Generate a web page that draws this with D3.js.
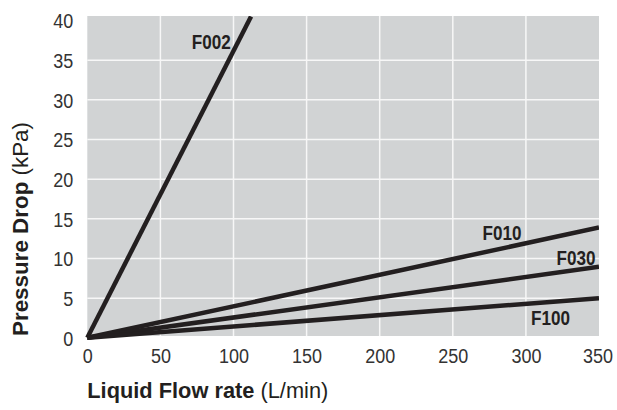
<!DOCTYPE html>
<html>
<head>
<meta charset="utf-8">
<script src="https://cdn.jsdelivr.net/npm/d3@7"></script>
<style>
  html, body { margin: 0; padding: 0; background: #fff; }
  svg { display: block; }
</style>
</head>
<body>
<svg id="chart" width="617" height="410"></svg>
<script>
// ---- data ----
const seriesNames = ["F002", "F010", "F030", "F100"];
const flowF002 = [0, 112];
const dropF002 = [0, 40.5];
const flowF010 = [0, 350];
const dropF010 = [0, 13.9];
const flowF030 = [0, 350];
const dropF030 = [0, 8.95];
const flowF100 = [0, 350];
const dropF100 = [0, 5.0];
const xTicks = [0, 50, 100, 150, 200, 250, 300, 350];
const yTicks = [0, 5, 10, 15, 20, 25, 30, 35, 40];
const xTitleBold = "Liquid Flow rate";
const xTitleUnit = " (L/min)";
const yTitleBold = "Pressure Drop";
const yTitleUnit = " (kPa)";

// label anchor values (data coordinates)
const labelFlow = [71.5, 270.4, 321, 303.5];
const labelDrop = [36.4, 12.33, 9.18, 1.61];

const series = [
  {name: seriesNames[0], flow: flowF002, drop: dropF002},
  {name: seriesNames[1], flow: flowF010, drop: dropF010},
  {name: seriesNames[2], flow: flowF030, drop: dropF030},
  {name: seriesNames[3], flow: flowF100, drop: dropF100}
];

// ---- layout ----
const pL = 87.3, pR = 599, pT = 16, pB = 336;
const x = d3.scaleLinear().domain([0, 350]).range([pL, pR]);
const y = d3.scaleLinear().domain([0, 40.5]).range([337.8, 16.5]);

const svg = d3.select("#chart");
const font = "'Liberation Sans', Arial, Helvetica, sans-serif";

svg.append("defs").append("clipPath").attr("id", "plotclip")
  .append("rect").attr("x", pL - 4).attr("y", pT).attr("width", pR - pL + 4).attr("height", pB - pT + 4);

// background
svg.append("rect").attr("x", pL).attr("y", pT).attr("width", pR - pL).attr("height", pB - pT)
  .attr("fill", "#d1d3d4");

// gridlines
const g = svg.append("g");
g.selectAll(".vg").data(xTicks.filter(d => d > 0 && d < 350)).enter().append("line")
  .attr("x1", d => x(d)).attr("x2", d => x(d)).attr("y1", pT).attr("y2", pB)
  .attr("stroke", "#f7f7f7").attr("stroke-width", 1.5);
g.selectAll(".hg").data(yTicks.filter(d => d > 0 && d < 40)).enter().append("line")
  .attr("x1", pL).attr("x2", pR).attr("y1", d => y(d)).attr("y2", d => y(d))
  .attr("stroke", "#f7f7f7").attr("stroke-width", 1.5);

// axes (labels only)
const fmt = d3.format("d");
const xAxis = d3.axisBottom(x).tickValues(xTicks).tickSize(0).tickPadding(0).tickFormat(fmt);
const xg = svg.append("g").attr("transform", `translate(0,${pB})`).call(xAxis);
xg.select(".domain").remove();
xg.selectAll("text").attr("y", 27).attr("dy", 0)
  .attr("font-family", font).attr("font-size", 20.5).attr("fill", "#333")
  .attr("textLength", d => fmt(d).length * 10).attr("lengthAdjust", "spacingAndGlyphs");
xg.selectAll(".tick").filter(d => d === 350).select("text").attr("x", -1.5);

const yAxis = d3.axisLeft(y).tickValues(yTicks).tickSize(0).tickPadding(14).tickFormat(fmt);
const yg = svg.append("g").attr("transform", `translate(${pL},0)`).call(yAxis);
yg.select(".domain").remove();
yg.selectAll("text").attr("dy", "0.36em")
  .attr("font-family", font).attr("font-size", 20.5).attr("fill", "#333")
  .attr("textLength", d => fmt(d).length * 10).attr("lengthAdjust", "spacingAndGlyphs");

// lines
const line = d3.line().x(d => x(d[0])).y(d => y(d[1]));
svg.append("g").attr("clip-path", "url(#plotclip)")
  .selectAll("path").data(series).enter().append("path")
  .attr("d", s => line(s.flow.map((f, i) => [f, s.drop[i]])))
  .attr("fill", "none").attr("stroke", "#231f20").attr("stroke-width", 4.5)
  .attr("stroke-linecap", "butt").attr("stroke-linejoin", "miter");

// series labels
svg.append("g").selectAll("text").data(series).enter().append("text")
  .attr("x", (s, i) => x(labelFlow[i])).attr("y", (s, i) => y(labelDrop[i]))
  .attr("font-family", font)
  .attr("font-weight", "bold").attr("font-size", 20).attr("fill", "#231f20")
  .attr("textLength", 39).attr("lengthAdjust", "spacingAndGlyphs")
  .text(s => s.name);

// axis titles
const xt = svg.append("text").attr("x", pL).attr("y", 398)
  .attr("font-family", font).attr("font-size", 21.8).attr("fill", "#231f20");
xt.append("tspan").attr("font-weight", "bold").text(xTitleBold);
xt.append("tspan").attr("font-weight", "normal").text(xTitleUnit);

const yt = svg.append("text").attr("transform", `translate(28,${pB}) rotate(-90)`)
  .attr("font-family", font).attr("font-size", 22.4).attr("fill", "#231f20");
yt.append("tspan").attr("font-weight", "bold").text(yTitleBold);
yt.append("tspan").attr("font-weight", "normal").text(yTitleUnit);
</script>
</body>
</html>
